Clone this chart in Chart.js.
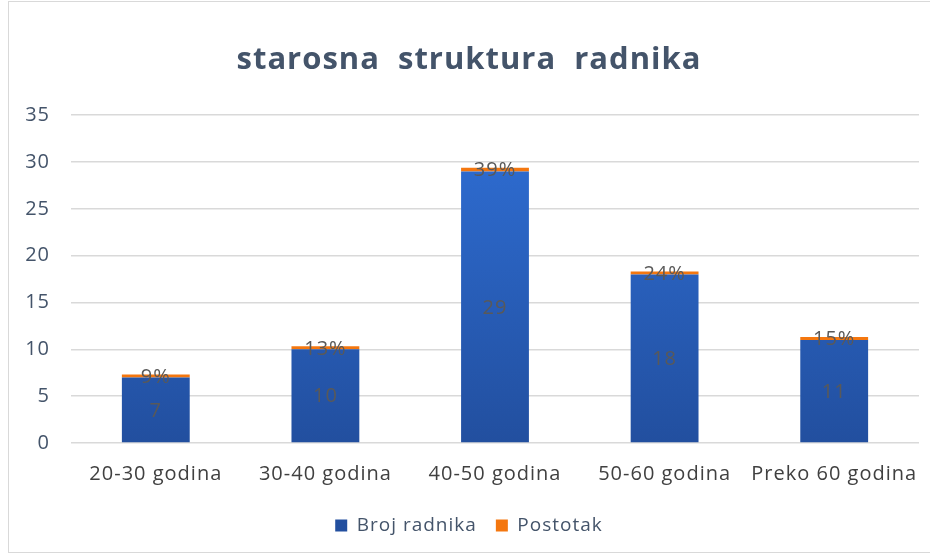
<!DOCTYPE html>
<html>
<head>
<meta charset="utf-8">
<script src="https://cdn.jsdelivr.net/npm/chart.js@4.4.1/dist/chart.umd.min.js"></script>
<style>
  html, body { margin: 0; padding: 0; background: #fff; }
  #wrap { position: absolute; left: 8px; top: 1px; width: 922px; height: 552px; border: 1px solid #d9d9d9; border-right: none; box-sizing: border-box; }
</style>
</head>
<body>
<div id="wrap"><canvas id="age-chart"></canvas></div>
<script>
const categories = ["20-30 godina", "30-40 godina", "40-50 godina", "50-60 godina", "Preko 60 godina"];
const workers = [7, 10, 29, 18, 11];
const shares = [0.09, 0.13, 0.39, 0.24, 0.15];
const yTicks = [0, 5, 10, 15, 20, 25, 30, 35];

const FONT = "'Open Sans', Lato, sans-serif";

function blueFill(ctx) {
  const area = ctx.chart.chartArea;
  if (!area) return "#2b62c4";
  const g = ctx.chart.ctx.createLinearGradient(0, area.top, 0, area.bottom);
  g.addColorStop(0, "#2f6fd6");
  g.addColorStop(1, "#224f9f");
  return g;
}

// the original text is slightly spaced out
const spacing = {
  id: "spacing",
  beforeLayout(chart) { chart.ctx.letterSpacing = "1px"; },
  beforeDraw(chart) { chart.ctx.letterSpacing = "1px"; },
};

// value labels in the middle of each segment
const barLabels = {
  id: "barLabels",
  afterDatasetsDraw(chart) {
    const c = chart.ctx;
    c.save();
    c.font = "20px " + FONT;
    c.fillStyle = "#595959";
    c.textAlign = "center";
    c.textBaseline = "middle";
    chart.data.datasets.forEach((ds, i) => {
      chart.getDatasetMeta(i).data.forEach((bar, j) => {
        const p = bar.getProps(["x", "y", "base"], true);
        const v = ds.data[j];
        const txt = i === 1 ? Math.round(v * 100) + "%" : String(v);
        c.fillText(txt, p.x, (p.y + p.base) / 2 + 1);
      });
    });
    c.restore();
  }
};

new Chart(document.getElementById("age-chart"), {
  type: "bar",
  data: {
    labels: categories,
    datasets: [
      {
        label: "Broj radnika",
        data: workers,
        backgroundColor: blueFill,
        barPercentage: 0.4,
        categoryPercentage: 1,
      },
      {
        label: "Postotak",
        data: shares,
        backgroundColor: "#f4770f",
        minBarLength: 3,
        barPercentage: 0.4,
        categoryPercentage: 1,
      },
    ],
  },
  options: {
    responsive: true,
    maintainAspectRatio: false,
    animation: false,
    layout: { padding: { left: 10, right: 11, top: 0, bottom: 7 } },
    plugins: {
      title: {
        display: true,
        text: "starosna  struktura  radnika",
        color: "#44546a",
        font: { family: FONT, size: 31, weight: "bold" },
        padding: { top: 40, bottom: 36 },
      },
      legend: {
        position: "bottom",
        labels: {
          color: "#44546a",
          font: { family: FONT, size: 19 },
          boxWidth: 12,
          boxHeight: 12,
          padding: 19,
        },
      },
      tooltip: { enabled: false },
    },
    scales: {
      x: {
        stacked: true,
        grid: { display: false },
        border: { display: false },
        ticks: {
          color: "#404040",
          font: { family: FONT, size: 20 },
          padding: 11,
          maxRotation: 0,
          autoSkip: false,
        },
      },
      y: {
        stacked: true,
        min: 0,
        max: 35,
        afterBuildTicks: (axis) => { axis.ticks = yTicks.map((v) => ({ value: v })); },
        afterFit: (axis) => { axis.width = 52; },
        grid: { color: "#d9d9d9", lineWidth: 1.5, drawTicks: false },
        border: { display: false },
        ticks: { color: "#44546a", font: { family: FONT, size: 20 }, padding: 21 },
      },
    },
  },
  plugins: [spacing, barLabels],
});
</script>
</body>
</html>
